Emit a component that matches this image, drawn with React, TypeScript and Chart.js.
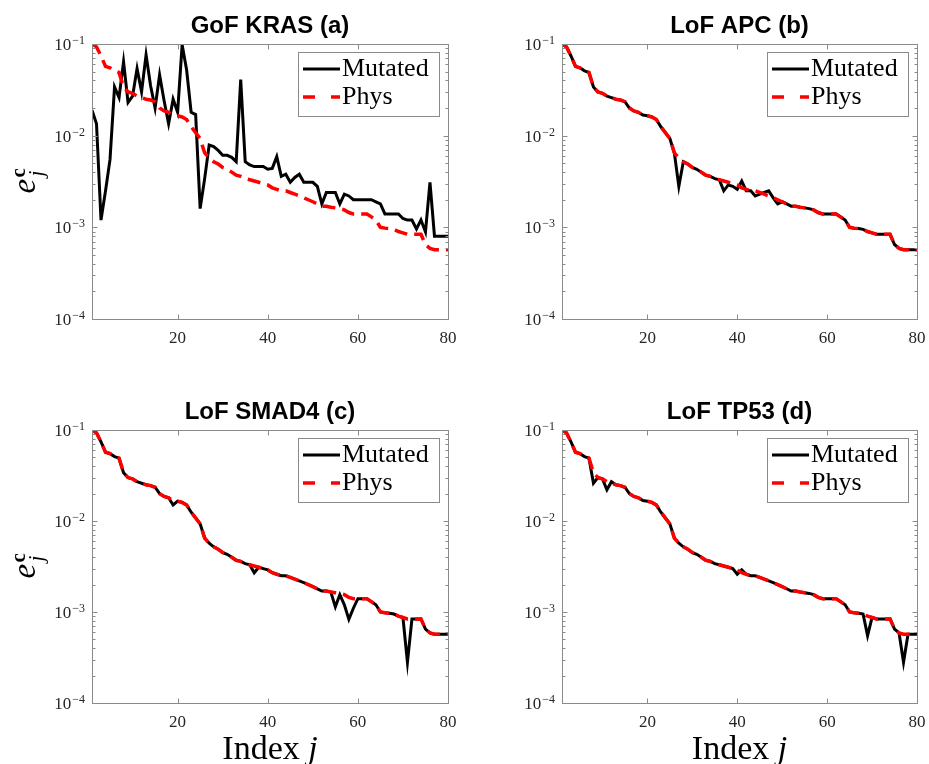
import React, { useEffect, useRef } from 'react';
import { Chart, registerables } from 'chart.js';

Chart.register(...registerables);

// ---------------- data ----------------
const indexJ = [
  1, 2, 3, 4, 5, 6, 7, 8, 9, 10, 11, 12, 13, 14, 15, 16, 17, 18, 19, 20,
  21, 22, 23, 24, 25, 26, 27, 28, 29, 30, 31, 32, 33, 34, 35, 36, 37, 38, 39, 40,
  41, 42, 43, 44, 45, 46, 47, 48, 49, 50, 51, 52, 53, 54, 55, 56, 57, 58, 59, 60,
  61, 62, 63, 64, 65, 66, 67, 68, 69, 70, 71, 72, 73, 74, 75, 76, 77, 78, 79, 80,
];

const physValues = [
  0.100, 0.093, 0.074, 0.057, 0.055, 0.051, 0.049, 0.034, 0.030, 0.029,
  0.027, 0.026, 0.025, 0.0245, 0.0235, 0.020, 0.0186, 0.018, 0.0168, 0.0165,
  0.016, 0.015, 0.0125, 0.0108, 0.0093, 0.0065, 0.0057, 0.0052, 0.0049, 0.0045,
  0.0043, 0.0040, 0.0037, 0.0036, 0.0034, 0.0033, 0.0032, 0.0031, 0.0030, 0.0029,
  0.0027, 0.0026, 0.0025, 0.0025, 0.0024, 0.0023, 0.0022, 0.0021, 0.0020, 0.0019,
  0.0018, 0.0017, 0.0017, 0.00166, 0.00163, 0.0016, 0.00155, 0.00145, 0.0014, 0.0014,
  0.0014, 0.0014, 0.0013, 0.0012, 0.0010, 0.00098, 0.00097, 0.00095, 0.00090, 0.00087,
  0.00084, 0.00084, 0.00084, 0.00084, 0.00065, 0.00059, 0.00057, 0.00057, 0.00057, 0.00057,
];

const mutatedKRAS = [
  0.019, 0.0135, 0.0012, 0.0025, 0.0055, 0.034, 0.026, 0.064, 0.023, 0.027,
  0.054, 0.030, 0.076, 0.035, 0.020, 0.046, 0.024, 0.0135, 0.025, 0.018,
  0.098, 0.052, 0.018, 0.017, 0.0016, 0.0034, 0.0079, 0.0076, 0.0069, 0.0061,
  0.0061, 0.0058, 0.0052, 0.041, 0.0052, 0.0048, 0.0046, 0.0046, 0.0046, 0.0043,
  0.0044, 0.0059, 0.0036, 0.0038, 0.0031, 0.0035, 0.0038, 0.0031, 0.0031, 0.0031,
  0.0028, 0.0018, 0.0024, 0.0024, 0.0024, 0.0018, 0.0023, 0.0022, 0.0020, 0.0020,
  0.0020, 0.0020, 0.0020, 0.0019, 0.0018, 0.0014, 0.0014, 0.0014, 0.0014, 0.00125,
  0.0012, 0.0012, 0.00096, 0.0012, 0.00089, 0.0031, 0.0008, 0.0008, 0.0008, 0.0008,
];

const mutatedAPC = [
  0.100, 0.093, 0.074, 0.057, 0.055, 0.051, 0.049, 0.034, 0.030, 0.029,
  0.027, 0.026, 0.025, 0.0245, 0.0235, 0.020, 0.0186, 0.018, 0.0168, 0.0165,
  0.016, 0.015, 0.0125, 0.0108, 0.0093, 0.0065, 0.0028, 0.0052, 0.0049, 0.0045,
  0.0043, 0.0040, 0.0037, 0.0036, 0.0034, 0.0033, 0.0025, 0.0029, 0.0028, 0.0026,
  0.0032, 0.0025, 0.0025, 0.0022, 0.0023, 0.0024, 0.0025, 0.0021, 0.0018, 0.0019,
  0.0018, 0.0017, 0.0017, 0.00166, 0.00163, 0.0016, 0.00155, 0.00145, 0.0014, 0.0014,
  0.0014, 0.0014, 0.0013, 0.0012, 0.0010, 0.00098, 0.00097, 0.00095, 0.00090, 0.00087,
  0.00084, 0.00084, 0.00084, 0.00084, 0.00065, 0.00059, 0.00057, 0.00057, 0.00057, 0.00057,
];

const mutatedSMAD4 = [
  0.100, 0.093, 0.074, 0.057, 0.055, 0.051, 0.049, 0.034, 0.030, 0.029,
  0.027, 0.026, 0.025, 0.0245, 0.0235, 0.020, 0.0186, 0.018, 0.015, 0.0165,
  0.016, 0.015, 0.0125, 0.0108, 0.0093, 0.0065, 0.0057, 0.0052, 0.0049, 0.0045,
  0.0043, 0.0040, 0.0037, 0.0036, 0.0034, 0.0033, 0.0027, 0.0031, 0.0030, 0.0029,
  0.0027, 0.0026, 0.0025, 0.0025, 0.0024, 0.0023, 0.0022, 0.0021, 0.0020, 0.0019,
  0.0018, 0.0017, 0.0017, 0.00166, 0.00114, 0.00155, 0.0012, 0.00083, 0.0011, 0.0014,
  0.0014, 0.0014, 0.0013, 0.0012, 0.0010, 0.00098, 0.00097, 0.00095, 0.00090, 0.00087,
  0.00028, 0.00084, 0.00084, 0.00084, 0.00065, 0.00059, 0.00057, 0.00057, 0.00057, 0.00057,
];

const mutatedTP53 = [
  0.100, 0.093, 0.074, 0.057, 0.055, 0.051, 0.049, 0.026, 0.030, 0.029,
  0.022, 0.027, 0.025, 0.0245, 0.0235, 0.020, 0.0186, 0.018, 0.0168, 0.0165,
  0.016, 0.015, 0.0125, 0.0108, 0.0093, 0.0065, 0.0057, 0.0052, 0.0049, 0.0045,
  0.0043, 0.0040, 0.0037, 0.0036, 0.0034, 0.0033, 0.0032, 0.0031, 0.0030, 0.0026,
  0.0029, 0.0026, 0.0025, 0.0025, 0.0024, 0.0023, 0.0022, 0.0021, 0.0020, 0.0019,
  0.0018, 0.0017, 0.0017, 0.00166, 0.00163, 0.0016, 0.00155, 0.00145, 0.0014, 0.0014,
  0.0014, 0.0014, 0.0013, 0.0012, 0.0010, 0.00098, 0.00097, 0.00095, 0.00055, 0.00087,
  0.00084, 0.00084, 0.00084, 0.00084, 0.00065, 0.00059, 0.00028, 0.00057, 0.00057, 0.00057,
];

const seriesNames = ['Mutated', 'Phys'];
const panelTitles = ['GoF KRAS (a)', 'LoF APC (b)', 'LoF SMAD4 (c)', 'LoF TP53 (d)'];
const xTickValues = [20, 40, 60, 80];
const xTickLabels = ['20', '40', '60', '80'];
const yTickValues = [1e-4, 1e-3, 1e-2, 1e-1];
const yTickBase = '10';
const yTickExponents = ['\u22124', '\u22123', '\u22122', '\u22121'];
const xAxisLabel = ['Index ', 'j'];
const yAxisLabel = ['e', 'c', 'j'];

// ---------------- styling ----------------
const SERIF = "'Liberation Serif', 'Times New Roman', serif";
const SANS = "'Liberation Sans', Arial, sans-serif";
const AXIS_GREY = '#8a8a8a';
const TEXT_GREY = '#262626';

const decorPlugin = {
  id: 'decor',
  afterDraw(chart: any, _args: any, opts: any) {
    const { ctx, chartArea: a, scales } = chart;
    const L = Math.round(a.left) + 0.5;
    const R = Math.round(a.right) + 0.5;
    const T = Math.round(a.top) + 0.5;
    const B = Math.round(a.bottom) + 0.5;
    ctx.save();
    // axes box
    ctx.strokeStyle = AXIS_GREY;
    ctx.lineWidth = 1;
    ctx.setLineDash([]);
    ctx.strokeRect(L, T, R - L, B - T);
    ctx.beginPath();
    for (const v of yTickValues) {
      const y = Math.round(scales.y.getPixelForValue(v)) + 0.5;
      ctx.moveTo(L, y); ctx.lineTo(L + 5, y);
      ctx.moveTo(R, y); ctx.lineTo(R - 5, y);
    }
    for (let d = -4; d < -1; d++) {
      for (let k = 2; k <= 9; k++) {
        const y = Math.round(scales.y.getPixelForValue(k * Math.pow(10, d))) + 0.5;
        ctx.moveTo(L, y); ctx.lineTo(L + 3, y);
        ctx.moveTo(R, y); ctx.lineTo(R - 3, y);
      }
    }
    for (const v of xTickValues) {
      const x = Math.round(scales.x.getPixelForValue(v)) + 0.5;
      ctx.moveTo(x, B); ctx.lineTo(x, B - 5);
      ctx.moveTo(x, T); ctx.lineTo(x, T + 5);
    }
    ctx.stroke();

    // y tick labels 10^{-k}
    ctx.fillStyle = TEXT_GREY;
    ctx.textBaseline = 'alphabetic';
    ctx.textAlign = 'left';
    scales.y.ticks.forEach((t: any) => {
      const i = yTickValues.findIndex((v) => Math.abs(Math.log10(v) - Math.log10(t.value)) < 1e-6);
      if (i < 0) return;
      const y = scales.y.getPixelForValue(t.value);
      ctx.font = `17px ${SERIF}`;
      const wb = ctx.measureText(yTickBase).width;
      ctx.font = `12px ${SERIF}`;
      const we = ctx.measureText(yTickExponents[i]).width;
      const x0 = a.left - 7 - wb - 1 - we;
      ctx.font = `17px ${SERIF}`;
      ctx.fillText(yTickBase, x0, y + 6);
      ctx.font = `12px ${SERIF}`;
      ctx.fillText(yTickExponents[i], x0 + wb + 1, y);
    });

    // title
    const cxMid = (a.left + a.right) / 2;
    ctx.fillStyle = '#000';
    ctx.font = `bold 24px ${SANS}`;
    ctx.textAlign = 'center';
    ctx.textBaseline = 'alphabetic';
    ctx.fillText(opts.title, cxMid, a.top - 11);

    // legend
    const bw = 141, bh = 64;
    const bx = Math.round(a.right) - 9 - bw;
    const by = Math.round(a.top) + 8;
    ctx.fillStyle = '#fff';
    ctx.fillRect(bx, by, bw, bh);
    ctx.strokeStyle = AXIS_GREY;
    ctx.lineWidth = 1;
    ctx.strokeRect(bx + 0.5, by + 0.5, bw, bh);
    chart.data.datasets.forEach((ds: any, i: number) => {
      const yy = by + 17 + i * 28;
      ctx.strokeStyle = ds.borderColor;
      ctx.lineWidth = ds.borderWidth;
      ctx.setLineDash(ds.borderDash ? [12, 16] : []);
      ctx.beginPath();
      ctx.moveTo(bx + 5, yy);
      ctx.lineTo(bx + 42, yy);
      ctx.stroke();
      ctx.setLineDash([]);
      ctx.fillStyle = '#000';
      ctx.font = `26px ${SERIF}`;
      ctx.textAlign = 'left';
      ctx.textBaseline = 'alphabetic';
      ctx.fillText(ds.label, bx + 44, yy + 7);
    });

    // y axis label e_j^c
    if (opts.showY) {
      const cy = (a.top + a.bottom) / 2;
      ctx.translate(35, cy);
      ctx.rotate(-Math.PI / 2);
      ctx.fillStyle = '#000';
      ctx.textAlign = 'left';
      ctx.textBaseline = 'alphabetic';
      ctx.font = `italic 33px ${SERIF}`;
      ctx.fillText(yAxisLabel[0], -12, 0);
      ctx.font = `bold 21px ${SERIF}`;
      ctx.fillText(yAxisLabel[1], 4, -10);
      ctx.font = `italic 21px ${SERIF}`;
      ctx.fillText(yAxisLabel[2], 5, 8);
      ctx.setTransform(1, 0, 0, 1, 0, 0);
    }

    // x axis label Index j
    if (opts.showX) {
      ctx.fillStyle = '#000';
      ctx.textBaseline = 'alphabetic';
      ctx.textAlign = 'left';
      ctx.font = `34px ${SERIF}`;
      const w1 = ctx.measureText(xAxisLabel[0]).width;
      ctx.font = `italic 34px ${SERIF}`;
      const w2 = ctx.measureText(xAxisLabel[1]).width;
      const x0 = cxMid - (w1 + w2) / 2;
      ctx.font = `34px ${SERIF}`;
      ctx.fillText(xAxisLabel[0], x0, opts.xLabelBaseline);
      ctx.font = `italic 34px ${SERIF}`;
      ctx.fillText(xAxisLabel[1], x0 + w1, opts.xLabelBaseline);
    }
    ctx.restore();
  },
};

type Area = { l: number; t: number; r: number; b: number };
type PanelProps = {
  left: number; top: number; width: number; height: number; area: Area;
  title: string; mutated: number[]; phys: number[]; showY: boolean; showX: boolean;
};

function Panel(p: PanelProps) {
  const ref = useRef<HTMLCanvasElement>(null);
  useEffect(() => {
    const canvas = ref.current as HTMLCanvasElement;
    const chart = new Chart(canvas, {
      type: 'line',
      data: {
        datasets: [
          {
            label: seriesNames[0],
            data: indexJ.map((x, i) => ({ x, y: p.mutated[i] })),
            borderColor: '#000000',
            borderWidth: 3,
            pointRadius: 0,
            tension: 0,
            fill: false,
            order: 2,
          },
          {
            label: seriesNames[1],
            data: indexJ.map((x, i) => ({ x, y: p.phys[i] })),
            borderColor: '#ff0000',
            borderWidth: 3.5,
            borderDash: [13, 7],
            pointRadius: 0,
            tension: 0,
            fill: false,
            order: 1,
          },
        ],
      },
      options: {
        responsive: false,
        maintainAspectRatio: false,
        animation: false,
        devicePixelRatio: 1,
        layout: { padding: { left: 0, top: p.area.t, right: p.width - p.area.r, bottom: 0 } },
        plugins: {
          legend: { display: false },
          tooltip: { enabled: false },
          title: { display: false },
          decor: { title: p.title, showY: p.showY, showX: p.showX, xLabelBaseline: p.height - 5 },
        } as any,
        scales: {
          x: {
            type: 'linear',
            min: 1,
            max: 80,
            grid: { display: false },
            border: { display: false },
            ticks: {
              color: TEXT_GREY,
              font: { family: SERIF, size: 17 },
              padding: 1,
              maxRotation: 0,
              callback: (v: any) => {
                const i = xTickValues.indexOf(Number(v));
                return i >= 0 ? xTickLabels[i] : '';
              },
            },
            afterBuildTicks: (s: any) => {
              s.ticks = xTickValues.map((v) => ({ value: v }));
            },
            afterFit: (s: any) => {
              s.height = p.height - p.area.b;
            },
          },
          y: {
            type: 'logarithmic',
            min: 1e-4,
            max: 1e-1,
            grid: { display: false },
            border: { display: false },
            ticks: { display: false },
            afterBuildTicks: (s: any) => {
              s.ticks = yTickValues.map((v) => ({ value: v }));
            },
            afterFit: (s: any) => {
              s.width = p.area.l;
            },
          },
        },
      } as any,
      plugins: [decorPlugin],
    });
    return () => chart.destroy();
  }, []);
  return (
    <canvas
      ref={ref}
      width={p.width}
      height={p.height}
      style={{ position: 'absolute', left: p.left, top: p.top, width: p.width, height: p.height }}
    />
  );
}

export default function App() {
  return (
    <div style={{ position: 'absolute', left: 0, top: 0, width: 929, height: 764, background: '#fff', overflow: 'hidden' }}>
      <Panel left={0} top={0} width={464} height={382} area={{ l: 92, t: 44, r: 448, b: 319 }}
        title={panelTitles[0]} mutated={mutatedKRAS} phys={physValues} showY={true} showX={false} />
      <Panel left={464} top={0} width={465} height={382} area={{ l: 98, t: 44, r: 453, b: 319 }}
        title={panelTitles[1]} mutated={mutatedAPC} phys={physValues} showY={false} showX={false} />
      <Panel left={0} top={382} width={464} height={382} area={{ l: 92, t: 48, r: 448, b: 321 }}
        title={panelTitles[2]} mutated={mutatedSMAD4} phys={physValues} showY={true} showX={true} />
      <Panel left={464} top={382} width={465} height={382} area={{ l: 98, t: 48, r: 453, b: 321 }}
        title={panelTitles[3]} mutated={mutatedTP53} phys={physValues} showY={false} showX={true} />
    </div>
  );
}
